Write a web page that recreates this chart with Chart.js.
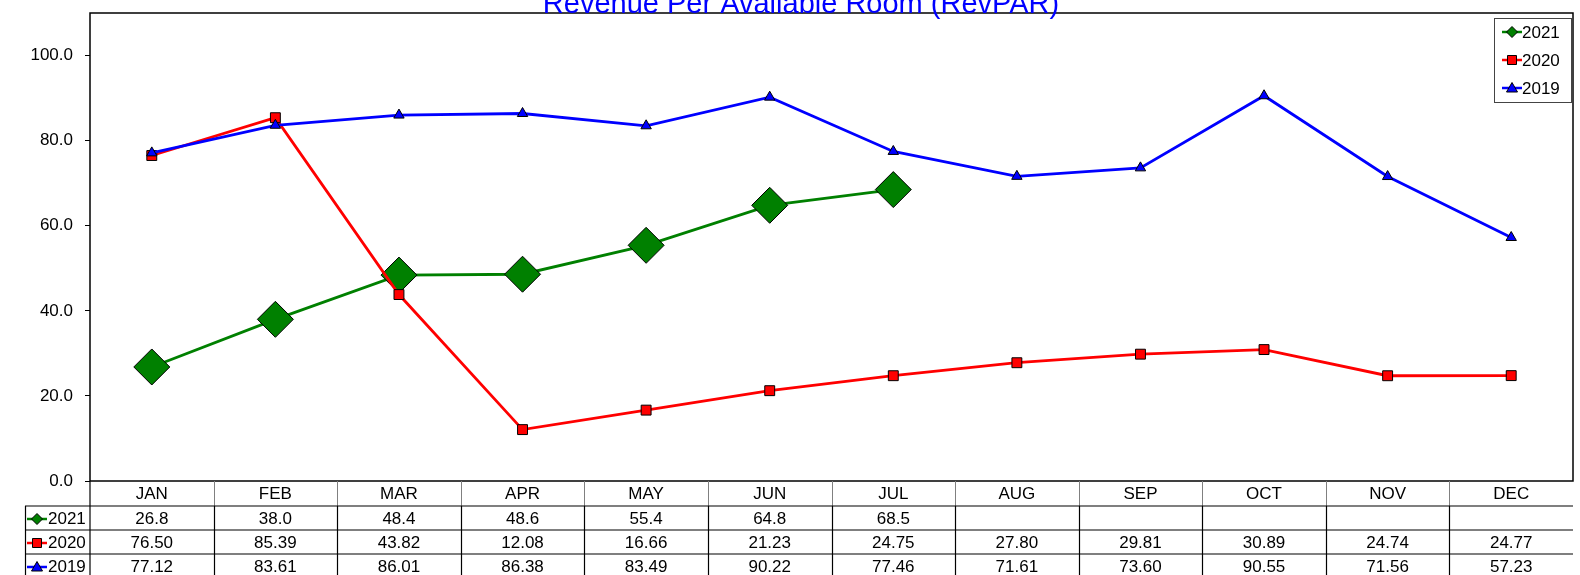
<!DOCTYPE html>
<html>
<head>
<meta charset="utf-8">
<script src="https://cdn.jsdelivr.net/npm/chart.js@4"></script>
<style>
  body { margin: 0; background: #fff; }
  #wrap { width: 1580px; height: 575px; }
</style>
</head>
<body>
<div id="wrap"><canvas id="c" width="1580" height="575"></canvas></div>
<script>
//-------------------Data-------------------
const months = ['JAN', 'FEB', 'MAR', 'APR', 'MAY', 'JUN', 'JUL', 'AUG', 'SEP', 'OCT', 'NOV', 'DEC'];
const rev2021 = [26.8, 38.0, 48.4, 48.6, 55.4, 64.8, 68.5, null, null, null, null, null];
const rev2020 = [76.50, 85.39, 43.82, 12.08, 16.66, 21.23, 24.75, 27.80, 29.81, 30.89, 24.74, 24.77];
const rev2019 = [77.12, 83.61, 86.01, 86.38, 83.49, 90.22, 77.46, 71.61, 73.60, 90.55, 71.56, 57.23];
const titleText = 'Revenue Per Available Room (RevPAR)';
const FONT = '"Liberation Sans", Arial, sans-serif';

// series info used by legend + data table (label, data, decimals, colour, marker)
const seriesInfo = [
  { label: '2021', data: rev2021, dec: 1, color: '#008000', shape: 'diamond' },
  { label: '2020', data: rev2020, dec: 2, color: '#ff0000', shape: 'square' },
  { label: '2019', data: rev2019, dec: 2, color: '#0000ff', shape: 'triangle' }
];

//-------------------Functions-------------------
function drawKey(ctx, x, y, s) { // small legend symbol: line + marker centred on x
  ctx.save();
  ctx.strokeStyle = s.color;
  ctx.lineWidth = 2.5;
  ctx.beginPath();
  ctx.moveTo(x - 10, y);
  ctx.lineTo(x + 10, y);
  ctx.stroke();
  ctx.fillStyle = s.color;
  ctx.strokeStyle = '#000';
  ctx.lineWidth = 1;
  ctx.beginPath();
  if (s.shape === 'diamond') {
    ctx.moveTo(x, y - 5.5); ctx.lineTo(x + 5.5, y); ctx.lineTo(x, y + 5.5); ctx.lineTo(x - 5.5, y); ctx.closePath();
  } else if (s.shape === 'square') {
    ctx.rect(x - 4.5, y - 4.5, 9, 9);
  } else {
    ctx.moveTo(x, y - 5.5); ctx.lineTo(x + 5.5, y + 4); ctx.lineTo(x - 5.5, y + 4); ctx.closePath();
  }
  ctx.fill();
  ctx.stroke();
  ctx.restore();
}

const extrasPlugin = {
  id: 'extras',
  afterDraw(chart) {
    const ctx = chart.ctx;
    const area = chart.chartArea;
    const xs = chart.scales.x;
    const colW = (area.right - area.left) / months.length;

    ctx.save();
    // plot frame
    ctx.strokeStyle = '#000';
    ctx.lineWidth = 1.5;
    ctx.strokeRect(area.left, area.top, area.right - area.left, area.bottom - area.top);

    // title (partly above the canvas top, like the original)
    ctx.fillStyle = '#0000ff';
    ctx.font = '29px ' + FONT;
    ctx.textAlign = 'center';
    ctx.textBaseline = 'alphabetic';
    ctx.fillText(titleText, 801, 13);

    // legend box
    ctx.fillStyle = '#fff';
    ctx.fillRect(1494, 18, 77, 84);
    ctx.strokeStyle = '#444';
    ctx.lineWidth = 1;
    ctx.strokeRect(1494.5, 18.5, 77, 84);
    ctx.font = '17px ' + FONT;
    ctx.textAlign = 'left';
    ctx.textBaseline = 'middle';
    seriesInfo.forEach((s, i) => {
      const y = 32 + i * 28;
      drawKey(ctx, 1512, y, s);
      ctx.fillStyle = '#000';
      ctx.fillText(s.label, 1522, y + 1);
    });

    // data table under the plot
    const top = area.bottom;
    const headH = 25, rowH = 24;
    ctx.font = '17px ' + FONT;
    ctx.textAlign = 'center';
    ctx.fillStyle = '#000';
    // header verticals (grey)
    ctx.strokeStyle = '#808080';
    ctx.lineWidth = 1;
    for (let i = 1; i < months.length; i++) {
      const bx = Math.round(area.left + colW * i) + 0.5;
      ctx.beginPath(); ctx.moveTo(bx, top); ctx.lineTo(bx, top + headH); ctx.stroke();
    }
    months.forEach((m, i) => ctx.fillText(m, xs.getPixelForValue(i), top + headH / 2 + 1));

    // data rows
    ctx.strokeStyle = '#000';
    ctx.lineWidth = 1.2;
    const rowsTop = top + headH;
    ctx.beginPath(); ctx.moveTo(25, rowsTop); ctx.lineTo(area.right, rowsTop); ctx.stroke();
    ctx.beginPath(); ctx.moveTo(25.5, rowsTop); ctx.lineTo(25.5, 575); ctx.stroke();
    ctx.beginPath(); ctx.moveTo(area.left, top); ctx.lineTo(area.left, 575); ctx.stroke();
    for (let i = 1; i < months.length; i++) {
      const bx = Math.round(area.left + colW * i) + 0.5;
      ctx.beginPath(); ctx.moveTo(bx, rowsTop); ctx.lineTo(bx, 575); ctx.stroke();
    }
    seriesInfo.forEach((s, r) => {
      const y0 = rowsTop + r * rowH;
      if (r > 0) {
        ctx.beginPath(); ctx.moveTo(25, y0); ctx.lineTo(area.right, y0); ctx.stroke();
      }
      const cy = y0 + rowH / 2 + 1;
      drawKey(ctx, 37, cy, s);
      ctx.fillStyle = '#000';
      ctx.textAlign = 'left';
      ctx.fillText(s.label, 48, cy);
      ctx.textAlign = 'center';
      s.data.forEach((v, i) => {
        if (v !== null) ctx.fillText(v.toFixed(s.dec), xs.getPixelForValue(i), cy);
      });
    });
    ctx.restore();
  }
};

function noPad(s) {
  s.paddingTop = 0; s.paddingBottom = 0; s.paddingLeft = 0; s.paddingRight = 0;
}

//-------------------Chart-------------------
new Chart(document.getElementById('c'), {
  type: 'line',
  data: {
    labels: months,
    datasets: [
      {
        label: '2021', data: rev2021, order: 3,
        borderColor: '#008000', backgroundColor: '#008000', borderWidth: 2.8,
        pointStyle: 'rectRot', pointRadius: 18, pointBorderColor: '#000', pointBorderWidth: 1,
        pointBackgroundColor: '#008000', tension: 0
      },
      {
        label: '2020', data: rev2020, order: 2,
        borderColor: '#ff0000', backgroundColor: '#ff0000', borderWidth: 2.8,
        pointStyle: 'rect', pointRadius: 7, pointBorderColor: '#000', pointBorderWidth: 1,
        pointBackgroundColor: '#ff0000', tension: 0
      },
      {
        label: '2019', data: rev2019, order: 1,
        borderColor: '#0000ff', backgroundColor: '#0000ff', borderWidth: 2.8,
        pointStyle: 'triangle', pointRadius: 6, pointBorderColor: '#000', pointBorderWidth: 1,
        pointBackgroundColor: '#0000ff', tension: 0
      }
    ]
  },
  options: {
    responsive: false,
    animation: false,
    clip: false,
    layout: { autoPadding: false, padding: { top: 13, right: 7, bottom: 94, left: 0 } },
    plugins: {
      legend: { display: false },
      title: { display: false },
      tooltip: { enabled: false }
    },
    scales: {
      x: { type: 'category', offset: true, display: false, afterFit: noPad },
      y: {
        min: 0, max: 110,
        afterFit: (s) => { s.width = 90; noPad(s); },
        border: { display: false },
        grid: { drawOnChartArea: false, drawTicks: true, tickLength: 5, color: '#000' },
        ticks: {
          stepSize: 20, includeBounds: false, padding: 12,
          color: '#000', font: { family: FONT, size: 17 },
          callback: (v) => Number(v).toFixed(1)
        }
      }
    }
  },
  plugins: [extrasPlugin]
});
</script>
</body>
</html>
